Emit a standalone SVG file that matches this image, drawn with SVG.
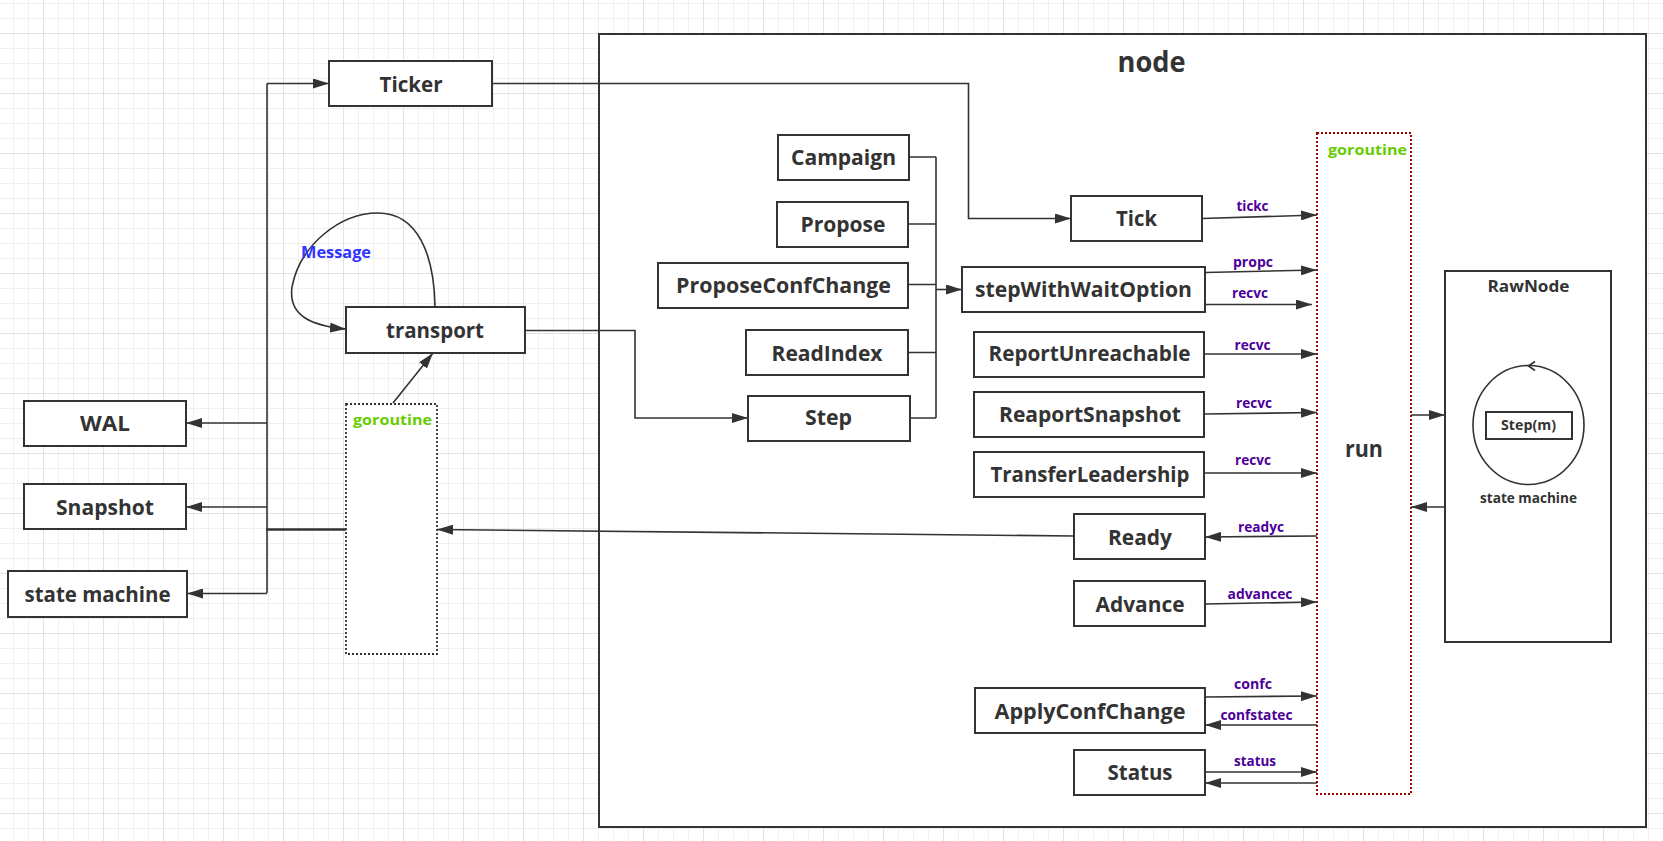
<svg xmlns="http://www.w3.org/2000/svg" width="1663" height="841" viewBox="0 0 1663 841">
  <style>
    .box { fill: #ffffff; stroke: #333333; stroke-width: 2; }
    .lbl { font-family: "Open Sans", "Liberation Sans", sans-serif; font-weight: 700; fill: #333333; text-anchor: middle; }
    .big { font-size: 22px; }
    .ch { font-family: "Open Sans", "Liberation Sans", sans-serif; font-weight: 700; font-size: 14px; fill: #4d0099; text-anchor: middle; }
    .go { font-family: "Open Sans", "Liberation Sans", sans-serif; font-weight: 700; font-size: 15px; fill: #66cc00; }
    .wire { fill: none; stroke: #333333; stroke-width: 1.6; }
    .arrow { marker-end: url(#head); }
  </style>
  <defs>
    <pattern id="grid" patternUnits="userSpaceOnUse" x="43" y="33" width="60" height="60">
      <rect width="60" height="60" fill="#ffffff"/>
      <path d="M15.5,0V60M30.5,0V60M45.5,0V60M0,15.5H60M0,30.5H60M0,45.5H60" stroke="#efefef" stroke-width="1"/>
      <path d="M0.5,0V60M0,0.5H60" stroke="#e2e2e2" stroke-width="1"/>
    </pattern>
    <marker id="head" viewBox="0 0 16 10" refX="16" refY="5" markerWidth="16" markerHeight="10" markerUnits="userSpaceOnUse" orient="auto">
      <path d="M0,0 L16,5 L0,10 z" fill="#333333"/>
    </marker>
  </defs>

  <!-- paper -->
  <rect width="1663" height="841" fill="url(#grid)"/>

  <!-- node container -->
  <g id="node">
    <rect class="box" x="599" y="34" width="1047" height="793"/>
    <text class="lbl" x="1151.5" y="72" font-size="28" textLength="68" lengthAdjust="spacingAndGlyphs">node</text>
  </g>

  <!-- goroutine frames -->
  <g id="run-goroutine">
    <rect x="1317" y="133" width="94" height="661" fill="#ffffff" stroke="#990000" stroke-width="2" stroke-dasharray="2 2"/>
    <text class="go" x="1328" y="155" textLength="79" lengthAdjust="spacingAndGlyphs">goroutine</text>
    <text class="lbl" x="1364" y="456.5" font-size="23" textLength="38" lengthAdjust="spacingAndGlyphs">run</text>
  </g>
  <g id="io-goroutine">
    <rect x="346" y="404" width="91" height="250" fill="#ffffff" stroke="#333333" stroke-width="1.8" stroke-dasharray="2 2"/>
    <text class="go" x="353" y="425" textLength="79" lengthAdjust="spacingAndGlyphs">goroutine</text>
  </g>

  <!-- connectors -->
  <g id="connectors">
    <!-- persistence bus on the left -->
    <path class="wire" d="M267,593 V83.5"/>
    <path class="wire arrow" d="M267,83.5 H329"/>
    <path class="wire arrow" d="M267,423 H186"/>
    <path class="wire arrow" d="M267,507 H186"/>
    <path class="wire arrow" d="M267,593.5 H187"/>
    <path fill="none" stroke="#333333" stroke-width="2.6" d="M266,529.5 H346"/>
    <!-- goroutine sends through transport -->
    <path class="wire arrow" d="M393,403 L433,353"/>
    <!-- Message loop on transport -->
    <path class="wire arrow" d="M435,306 C434,255 418,213 378,213 C340,213 300,245 292,287 C288,316 312,326 346,329"/>
    <!-- transport into Step -->
    <path class="wire arrow" d="M525,330.5 H635 V418 H748"/>
    <!-- Ticker into Tick -->
    <path class="wire arrow" d="M492,83.5 H968.5 V218.5 H1071"/>
    <!-- API calls merge into stepWithWaitOption -->
    <path class="wire" d="M909,157 H936 M908,224 H936 M908,284.5 H936 M908,352.5 H936 M910,418 H936 M936,157 V418"/>
    <path class="wire arrow" d="M936,289.5 H962"/>
    <!-- channels into run -->
    <path class="wire arrow" d="M1202,218.5 L1317,215"/>
    <path class="wire arrow" d="M1205,272.5 L1317,270"/>
    <path class="wire arrow" d="M1205,304.5 H1312"/>
    <path class="wire arrow" d="M1204,354 H1317"/>
    <path class="wire arrow" d="M1204,414 L1317,412.5"/>
    <path class="wire arrow" d="M1204,473 H1317"/>
    <path class="wire arrow" d="M1317,536 L1205,537"/>
    <path class="wire arrow" d="M1205,604 L1317,602"/>
    <path class="wire arrow" d="M1205,697 L1317,696"/>
    <path class="wire arrow" d="M1317,725 H1205"/>
    <path class="wire arrow" d="M1205,772 H1317"/>
    <path class="wire arrow" d="M1317,783 H1205"/>
    <!-- Ready back to the io goroutine -->
    <path class="wire arrow" d="M1074,536 L437,529.5"/>
    <!-- run and RawNode -->
    <path class="wire arrow" d="M1411,415 H1445"/>
    <path class="wire arrow" d="M1445,507 H1411"/>
  </g>

  <!-- channel names -->
  <g id="channel-labels">
    <text class="ch" x="1252.5" y="210.5" textLength="32" lengthAdjust="spacingAndGlyphs">tickc</text>
    <text class="ch" x="1253" y="266.5" textLength="40" lengthAdjust="spacingAndGlyphs">propc</text>
    <text class="ch" x="1250" y="298" textLength="36" lengthAdjust="spacingAndGlyphs">recvc</text>
    <text class="ch" x="1252.5" y="349.5" textLength="36" lengthAdjust="spacingAndGlyphs">recvc</text>
    <text class="ch" x="1254" y="407.5" textLength="36" lengthAdjust="spacingAndGlyphs">recvc</text>
    <text class="ch" x="1253" y="465" textLength="36" lengthAdjust="spacingAndGlyphs">recvc</text>
    <text class="ch" x="1261" y="532" textLength="46" lengthAdjust="spacingAndGlyphs">readyc</text>
    <text class="ch" x="1260" y="598.5" textLength="65" lengthAdjust="spacingAndGlyphs">advancec</text>
    <text class="ch" x="1253" y="688.5" textLength="38" lengthAdjust="spacingAndGlyphs">confc</text>
    <text class="ch" x="1256.5" y="720" textLength="72" lengthAdjust="spacingAndGlyphs">confstatec</text>
    <text class="ch" x="1255" y="766" textLength="42" lengthAdjust="spacingAndGlyphs">status</text>
    <text x="301" y="258" font-family="'Open Sans', 'Liberation Sans', sans-serif" font-weight="700" font-size="16" fill="#3333ff" textLength="70" lengthAdjust="spacingAndGlyphs">Message</text>
  </g>

  <!-- outside the node -->
  <g id="ticker"><rect class="box" x="329" y="61" width="163" height="45"/><text class="lbl big" x="411" y="91.5" textLength="63" lengthAdjust="spacingAndGlyphs">Ticker</text></g>
  <g id="transport"><rect class="box" x="346" y="307" width="179" height="46"/><text class="lbl big" x="435" y="338" textLength="98" lengthAdjust="spacingAndGlyphs">transport</text></g>
  <g id="wal"><rect class="box" x="24" y="401" width="162" height="45"/><text class="lbl big" x="105" y="431" textLength="50" lengthAdjust="spacingAndGlyphs">WAL</text></g>
  <g id="snapshot"><rect class="box" x="24" y="484" width="162" height="45"/><text class="lbl big" x="105" y="514.5" textLength="98" lengthAdjust="spacingAndGlyphs">Snapshot</text></g>
  <g id="state-machine"><rect class="box" x="8" y="571" width="179" height="46"/><text class="lbl big" x="97.5" y="601.5" textLength="146" lengthAdjust="spacingAndGlyphs">state machine</text></g>

  <!-- public API of node -->
  <g id="campaign"><rect class="box" x="778" y="135" width="131" height="45"/><text class="lbl big" x="843.5" y="165" textLength="105" lengthAdjust="spacingAndGlyphs">Campaign</text></g>
  <g id="propose"><rect class="box" x="777" y="202" width="131" height="45"/><text class="lbl big" x="843" y="232" textLength="85" lengthAdjust="spacingAndGlyphs">Propose</text></g>
  <g id="propose-conf-change"><rect class="box" x="658" y="263" width="250" height="45"/><text class="lbl big" x="783.5" y="293" textLength="215" lengthAdjust="spacingAndGlyphs">ProposeConfChange</text></g>
  <g id="read-index"><rect class="box" x="746" y="330" width="162" height="45"/><text class="lbl big" x="827" y="360.5" textLength="111" lengthAdjust="spacingAndGlyphs">ReadIndex</text></g>
  <g id="step"><rect class="box" x="748" y="396" width="162" height="45"/><text class="lbl big" x="828.5" y="425" textLength="47" lengthAdjust="spacingAndGlyphs">Step</text></g>

  <g id="tick"><rect class="box" x="1071" y="196" width="131" height="45"/><text class="lbl big" x="1136.5" y="226" textLength="41" lengthAdjust="spacingAndGlyphs">Tick</text></g>
  <g id="step-with-wait-option"><rect class="box" x="962" y="267" width="243" height="45"/><text class="lbl big" x="1083.5" y="297" textLength="217" lengthAdjust="spacingAndGlyphs">stepWithWaitOption</text></g>
  <g id="report-unreachable"><rect class="box" x="974" y="332" width="230" height="45"/><text class="lbl big" x="1089.5" y="361" textLength="202" lengthAdjust="spacingAndGlyphs">ReportUnreachable</text></g>
  <g id="report-snapshot"><rect class="box" x="974" y="392" width="230" height="45"/><text class="lbl big" x="1090" y="421.5" textLength="182" lengthAdjust="spacingAndGlyphs">ReaportSnapshot</text></g>
  <g id="transfer-leadership"><rect class="box" x="974" y="452" width="230" height="45"/><text class="lbl big" x="1090" y="482" textLength="199" lengthAdjust="spacingAndGlyphs">TransferLeadership</text></g>
  <g id="ready"><rect class="box" x="1074" y="514" width="131" height="45"/><text class="lbl big" x="1140" y="545" textLength="64" lengthAdjust="spacingAndGlyphs">Ready</text></g>
  <g id="advance"><rect class="box" x="1074" y="581" width="131" height="45"/><text class="lbl big" x="1140" y="611.5" textLength="89" lengthAdjust="spacingAndGlyphs">Advance</text></g>
  <g id="apply-conf-change"><rect class="box" x="975" y="688" width="230" height="45"/><text class="lbl big" x="1090" y="719" textLength="191" lengthAdjust="spacingAndGlyphs">ApplyConfChange</text></g>
  <g id="status"><rect class="box" x="1074" y="750" width="131" height="45"/><text class="lbl big" x="1140" y="780" textLength="65" lengthAdjust="spacingAndGlyphs">Status</text></g>

  <!-- RawNode with its state machine loop -->
  <g id="raw-node">
    <rect class="box" x="1445" y="271" width="166" height="371"/>
    <text class="lbl" x="1528.5" y="291.5" font-size="16" textLength="82" lengthAdjust="spacingAndGlyphs">RawNode</text>
    <ellipse cx="1528.5" cy="425" rx="55.5" ry="59.5" fill="none" stroke="#333333" stroke-width="1.6"/>
    <path d="M1535,361.5 L1528.5,366 L1535,370.5" fill="none" stroke="#333333" stroke-width="1.6"/>
    <rect class="box" x="1486" y="412" width="86" height="27"/>
    <text class="lbl" x="1528.5" y="430" font-size="14.5" textLength="55" lengthAdjust="spacingAndGlyphs">Step(m)</text>
    <text class="lbl" x="1528.5" y="503" font-size="14" textLength="97" lengthAdjust="spacingAndGlyphs">state machine</text>
  </g>
</svg>
